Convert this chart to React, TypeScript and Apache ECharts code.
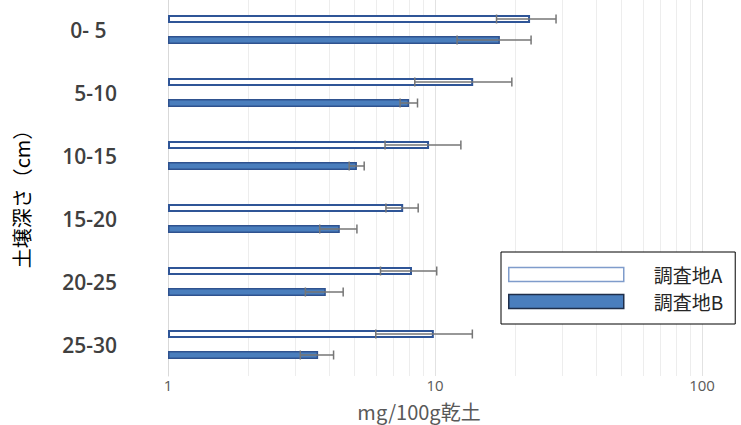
import React, { useEffect, useRef } from "react";
import * as echarts from "echarts";

const categories = ["0- 5", "5-10", "10-15", "15-20", "20-25", "25-30"];
const seriesAName = "調査地A";
const seriesBName = "調査地B";
const meanA = [22.7, 13.9, 9.5, 7.6, 8.2, 9.9];
const sdA = [5.7, 5.5, 3.0, 1.05, 1.95, 3.9];
const meanB = [17.5, 8.0, 5.1, 4.4, 3.9, 3.65];
const sdB = [5.4, 0.6, 0.33, 0.7, 0.63, 0.52];
const xTicks = [1, 10, 100];
const minorGrid = [2, 3, 4, 5, 6, 7, 8, 9, 20, 30, 40, 50, 60, 70, 80, 90];
const xAxisName = "mg/100g乾土";
const yAxisName = "土壌深さ（cm）";

const FONT = "'Open Sans', 'Noto Sans CJK JP', sans-serif";
const CJK = "'Noto Sans CJK JP', 'Open Sans', sans-serif";

function errorSeries(means: number[], sds: number[], offset: number) {
  return {
    type: "custom",
    silent: true,
    z: 5,
    data: means.map((m, i) => [m - sds[i], m + sds[i], i]),
    encode: { x: [0, 1], y: 2 },
    renderItem: (params: any, api: any) => {
      const lo = api.coord([api.value(0), api.value(2)]);
      const hi = api.coord([api.value(1), api.value(2)]);
      const y = lo[1] + offset;
      const style = { stroke: "#767676", lineWidth: 1.5 };
      return {
        type: "group",
        children: [
          { type: "line", shape: { x1: lo[0], y1: y, x2: hi[0], y2: y }, style },
          { type: "line", shape: { x1: lo[0], y1: y - 4.5, x2: lo[0], y2: y + 4.5 }, style },
          { type: "line", shape: { x1: hi[0], y1: y - 4.5, x2: hi[0], y2: y + 4.5 }, style },
        ],
      };
    },
  };
}

export default function App() {
  const ref = useRef<HTMLDivElement>(null);
  useEffect(() => {
    if (!ref.current) return;
    const chart = echarts.init(ref.current, null, { renderer: "svg" });
    chart.setOption({
      animation: false,
      backgroundColor: "#ffffff",
      grid: { left: 168, right: 39, top: -2, height: 378, outerBoundsMode: "none", containLabel: false },
      xAxis: {
        type: "log",
        min: 1,
        max: 100,
        logBase: 10,
        axisLine: { show: false },
        axisTick: { show: false },
        axisLabel: {
          margin: 1,
          fontSize: 15,
          color: "#595959",
          fontFamily: FONT,
          customValues: xTicks,
        },
        splitLine: { show: true, lineStyle: { color: "#E2E2E2", width: 1 } },
      },
      yAxis: {
        type: "category",
        data: categories,
        inverse: true,
        axisLine: { show: true, lineStyle: { color: "#D9D9D9", width: 1 } },
        axisTick: { show: false },
        axisLabel: {
          margin: 51,
          fontSize: 21,
          fontWeight: 600,
          color: "#404040",
          fontFamily: FONT,
          formatter: (v: string) => (v === "0- 5" ? v + "\u2002" : v),
        },
        splitLine: { show: false },
      },
      legend: {
        orient: "vertical",
        left: 501,
        top: 252,
        padding: [13, 12, 13, 7],
        itemGap: 8,
        itemWidth: 115,
        itemHeight: 14,
        borderColor: "#000000",
        borderWidth: 1,
        backgroundColor: "#ffffff",
        selectedMode: false,
        textStyle: { fontSize: 19, color: "#262626", fontFamily: CJK, padding: [0, 0, 0, 25] },
        data: [
          {
            name: seriesAName,
            icon: "rect",
            itemStyle: { color: "#ffffff", borderColor: "#7F9CCB", borderWidth: 1.5 },
          },
          {
            name: seriesBName,
            icon: "rect",
            itemStyle: { color: "#4A7EBD", borderColor: "#1F2E4A", borderWidth: 1.5 },
          },
        ],
      },
      graphic: [
        {
          type: "text",
          x: 21,
          y: 194,
          rotation: Math.PI / 2,
          style: {
            text: yAxisName,
            fontSize: 20,
            fill: "#000000",
            fontFamily: CJK,
            align: "center",
            verticalAlign: "middle",
          },
        },
        {
          type: "text",
          x: 419,
          y: 411,
          style: {
            text: xAxisName,
            fontSize: 20,
            fill: "#595959",
            fontFamily: CJK,
            align: "center",
            verticalAlign: "middle",
          },
        },
      ],
      series: [
        {
          name: seriesAName,
          type: "bar",
          data: meanA,
          barWidth: 8,
          barGap: "162%",
          itemStyle: { color: "#ffffff", borderColor: "#2F5597", borderWidth: 2 },
          markLine: {
            silent: true,
            symbol: "none",
            label: { show: false },
            lineStyle: { color: "#EDEDED", width: 1, type: "solid" },
            z: 0,
            data: minorGrid.map((v) => ({ xAxis: v })),
          },
          z: 2,
        },
        {
          name: seriesBName,
          type: "bar",
          data: meanB,
          barWidth: 8,
          itemStyle: { color: "#4A7EBD", borderColor: "#2F528F", borderWidth: 1.5 },
          z: 2,
        },
        errorSeries(meanA, sdA, -10.5),
        errorSeries(meanB, sdB, 10.5),
      ],
    });
    return () => chart.dispose();
  }, []);
  return (
    <div
      ref={ref}
      style={{ position: "absolute", left: 0, top: 0, width: 741, height: 425 }}
    />
  );
}
